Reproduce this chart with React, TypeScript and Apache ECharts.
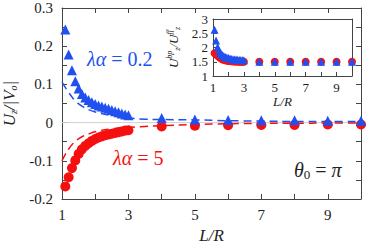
import React, { useEffect, useRef } from "react";
import * as echarts from "echarts";

const lRatio = [1.1, 1.2, 1.3, 1.4, 1.5, 1.6, 1.7, 1.8, 1.9, 2.0, 2.1, 2.2, 2.3, 2.4, 2.5, 2.6, 2.7, 2.8, 2.9, 3.0, 4, 5, 6, 7, 8, 9, 10];
const blueMain = [0.244, 0.178, 0.137, 0.108, 0.089, 0.075, 0.066, 0.059, 0.053, 0.049, 0.045, 0.042, 0.039, 0.036, 0.033, 0.030, 0.027, 0.024, 0.021, 0.019, 0.012, 0.008, 0.007, 0.006, 0.006, 0.005, 0.005];
const redMain = [-0.167, -0.143, -0.119, -0.099, -0.082, -0.070, -0.061, -0.054, -0.048, -0.043, -0.039, -0.036, -0.033, -0.031, -0.029, -0.027, -0.025, -0.023, -0.021, -0.020, -0.010, -0.008, -0.007, -0.006, -0.006, -0.005, -0.005];

const dashL = [1.0, 1.1, 1.2, 1.3, 1.4, 1.6, 1.8, 2.0, 2.5, 3.0, 3.5, 4, 5, 6, 7, 8, 9, 10];
const blueDash = [0.106, 0.092, 0.079, 0.067, 0.057, 0.043, 0.034, 0.028, 0.018, 0.012, 0.009, 0.008, 0.007, 0.005, 0.004, 0.003, 0.003, 0.003];
const redDash = [-0.100, -0.083, -0.069, -0.058, -0.049, -0.037, -0.030, -0.024, -0.016, -0.013, -0.010, -0.008, -0.005, -0.003, -0.002, -0.002, -0.001, -0.001];

const insetBlue = [2.62, 2.25, 2.02, 1.88, 1.80, 1.74, 1.70, 1.67, 1.65, 1.63, 1.615, 1.60, 1.59, 1.58, 1.575, 1.57, 1.565, 1.56, 1.555, 1.55, 1.5, 1.5, 1.5, 1.5, 1.5, 1.5, 1.5];
const insetRed = [1.80, 1.76, 1.71, 1.66, 1.62, 1.59, 1.57, 1.55, 1.54, 1.53, 1.525, 1.52, 1.515, 1.51, 1.51, 1.505, 1.505, 1.50, 1.50, 1.50, 1.5, 1.5, 1.5, 1.5, 1.5, 1.5, 1.5];

const BLUE = "#2150f0";
const RED = "#f51010";
const AXIS = "#444";
const SERIF = "Liberation Serif";

const pairs = (xs: number[], ys: number[]) => xs.map((x, i) => [x, ys[i]]);

export default function App() {
  const ref = useRef<HTMLDivElement>(null);
  useEffect(() => {
    if (!ref.current) return;
    const chart = echarts.init(ref.current, null, { renderer: "svg" });
    const axisCommon = {
      type: "value" as const,
      axisLine: { show: true, onZero: false, lineStyle: { color: AXIS, width: 1 } },
      axisTick: { show: true, inside: true, length: 5, lineStyle: { color: AXIS } },
      splitLine: { show: false },
      axisPointer: { show: false },
    };
    const oddLabel = (v: number) => (Math.round(v) % 2 === 1 ? String(Math.round(v)) : "");
    chart.setOption({
      animation: false,
      backgroundColor: "#fff",
      textStyle: { fontFamily: SERIF },
      grid: [
        { left: 62, right: 5, top: 8, bottom: 42, containLabel: false, outerBoundsMode: "none" },
        { left: 213, right: 14, top: 19, bottom: 165, show: true, backgroundColor: "#fff", borderWidth: 0, containLabel: false, outerBoundsMode: "none" },
      ],
      xAxis: [
        {
          ...axisCommon, gridIndex: 0, min: 1, max: 10, interval: 1, position: "bottom",
          axisLabel: { formatter: oddLabel, fontFamily: SERIF, fontSize: 15, color: "#222", margin: 8 },
          name: "L/R", nameLocation: "middle", nameGap: 22,
          nameTextStyle: { fontFamily: SERIF, fontStyle: "italic", fontSize: 17, color: "#222", lineHeight: 17 },
        },
        { ...axisCommon, gridIndex: 0, min: 1, max: 10, interval: 1, position: "top", axisLabel: { show: false } },
        {
          ...axisCommon, gridIndex: 1, min: 1, max: 10, interval: 1, position: "bottom",
          axisTick: { show: true, inside: true, length: 4, lineStyle: { color: AXIS } },
          axisLabel: { formatter: oddLabel, fontFamily: SERIF, fontSize: 13, color: "#222", margin: 5 },
          name: "L/R", nameLocation: "middle", nameGap: 18,
          nameTextStyle: { fontFamily: SERIF, fontStyle: "italic", fontSize: 13, color: "#222" },
        },
        { ...axisCommon, gridIndex: 1, min: 1, max: 10, interval: 1, position: "top", axisTick: { show: false }, axisLabel: { show: false } },
      ],
      yAxis: [
        {
          ...axisCommon, gridIndex: 0, min: -0.2, max: 0.3, interval: 0.05, position: "left",
          axisLabel: {
            fontFamily: SERIF, fontSize: 15, color: "#222", margin: 9,
            formatter: (v: number) => {
              const r = Math.round(v * 100);
              if (r % 10 !== 0) return "";
              return r === 0 ? "0" : String(r / 100);
            },
          },
          name: "{i|U}{s|z}{i|/|V}{s|o}{i||}", nameLocation: "middle", nameGap: 42, nameRotate: 90,
          nameTextStyle: {
            color: "#222",
            rich: {
              i: { fontFamily: SERIF, fontStyle: "italic", fontSize: 17, color: "#222", lineHeight: 17, verticalAlign: "middle" },
              s: { fontFamily: SERIF, fontStyle: "italic", fontSize: 10, color: "#222", lineHeight: 17, verticalAlign: "bottom" },
            },
          },
        },
        { ...axisCommon, gridIndex: 0, min: -0.2, max: 0.3, interval: 0.05, position: "right", axisLabel: { show: false } },
        {
          ...axisCommon, gridIndex: 1, min: 1, max: 3, interval: 0.5, position: "left",
          axisTick: { show: true, inside: true, length: 4, lineStyle: { color: AXIS } },
          axisLabel: { fontFamily: SERIF, fontSize: 13, color: "#222", margin: 5, formatter: (v: number) => String(v) },
          name: "{i|U}{a|bp}{s|z}{i|/U}{a|ff}{s|z}", nameLocation: "middle", nameGap: 32, nameRotate: 90,
          nameTextStyle: {
            color: "#222",
            rich: {
              i: { fontFamily: SERIF, fontStyle: "italic", fontSize: 13, color: "#222", lineHeight: 16, verticalAlign: "middle" },
              a: { fontFamily: SERIF, fontStyle: "italic", fontSize: 8, color: "#222", lineHeight: 16, verticalAlign: "top" },
              s: { fontFamily: SERIF, fontStyle: "italic", fontSize: 8, color: "#222", lineHeight: 16, verticalAlign: "bottom" },
            },
          },
        },
        { ...axisCommon, gridIndex: 1, min: 1, max: 3, interval: 0.5, position: "right", axisTick: { show: false }, axisLabel: { show: false } },
      ],
      series: [
        {
          type: "line", xAxisIndex: 0, yAxisIndex: 0, symbol: "none", silent: true,
          data: [[1, 0], [10, 0]], lineStyle: { color: "#d0d0d0", width: 1 }, z: 1,
        },
        {
          type: "line", xAxisIndex: 0, yAxisIndex: 0, symbol: "none", smooth: true, silent: true,
          data: pairs(dashL, redDash), lineStyle: { color: RED, width: 1.5, type: [8, 5] }, z: 2,
        },
        {
          type: "line", xAxisIndex: 0, yAxisIndex: 0, symbol: "none", smooth: true, silent: true,
          data: pairs(dashL, blueDash), lineStyle: { color: BLUE, width: 1.5, type: [8, 5] }, z: 2,
        },
        {
          type: "scatter", xAxisIndex: 0, yAxisIndex: 0, symbol: "circle", symbolSize: 10, silent: true,
          data: pairs(lRatio, redMain), itemStyle: { color: RED, opacity: 1 }, z: 3,
        },
        {
          type: "scatter", xAxisIndex: 0, yAxisIndex: 0, symbol: "triangle", symbolSize: 10, silent: true,
          data: pairs(lRatio, blueMain), itemStyle: { color: BLUE, opacity: 1 }, z: 4,
        },
        {
          type: "scatter", xAxisIndex: 2, yAxisIndex: 2, symbol: "circle", symbolSize: 8, silent: true,
          data: pairs(lRatio, insetRed), itemStyle: { color: RED, opacity: 1 }, z: 5,
        },
        {
          type: "scatter", xAxisIndex: 2, yAxisIndex: 2, symbol: "triangle", symbolSize: 8, silent: true,
          data: pairs(lRatio, insetBlue), itemStyle: { color: BLUE, opacity: 1 }, z: 6,
        },
      ],
      graphic: [
        {
          type: "text", left: 87, top: 49, z: 10,
          style: {
            text: "{g|λα}{n| = 0.2}",
            rich: {
              g: { fontFamily: SERIF, fontStyle: "italic", fontSize: 20, fill: BLUE },
              n: { fontFamily: SERIF, fontSize: 20, fill: BLUE },
            },
          },
        },
        {
          type: "text", left: 113, top: 148, z: 10,
          style: {
            text: "{g|λα}{n| = 5}",
            rich: {
              g: { fontFamily: SERIF, fontStyle: "italic", fontSize: 20, fill: RED },
              n: { fontFamily: SERIF, fontSize: 20, fill: RED },
            },
          },
        },
        {
          type: "text", left: 294, top: 160, z: 10,
          style: {
            text: "{g|θ}{s|0}{n| = }{g|π}",
            rich: {
              g: { fontFamily: SERIF, fontStyle: "italic", fontSize: 20, fill: "#222", lineHeight: 22, verticalAlign: "middle" },
              s: { fontFamily: SERIF, fontSize: 13, fill: "#222", lineHeight: 22, verticalAlign: "bottom" },
              n: { fontFamily: SERIF, fontSize: 20, fill: "#222", lineHeight: 22, verticalAlign: "middle" },
            },
          },
        },
      ],
    });
    return () => chart.dispose();
  }, []);
  return <div ref={ref} style={{ width: 366, height: 241, position: "absolute", left: 0, top: 0 }} />;
}
